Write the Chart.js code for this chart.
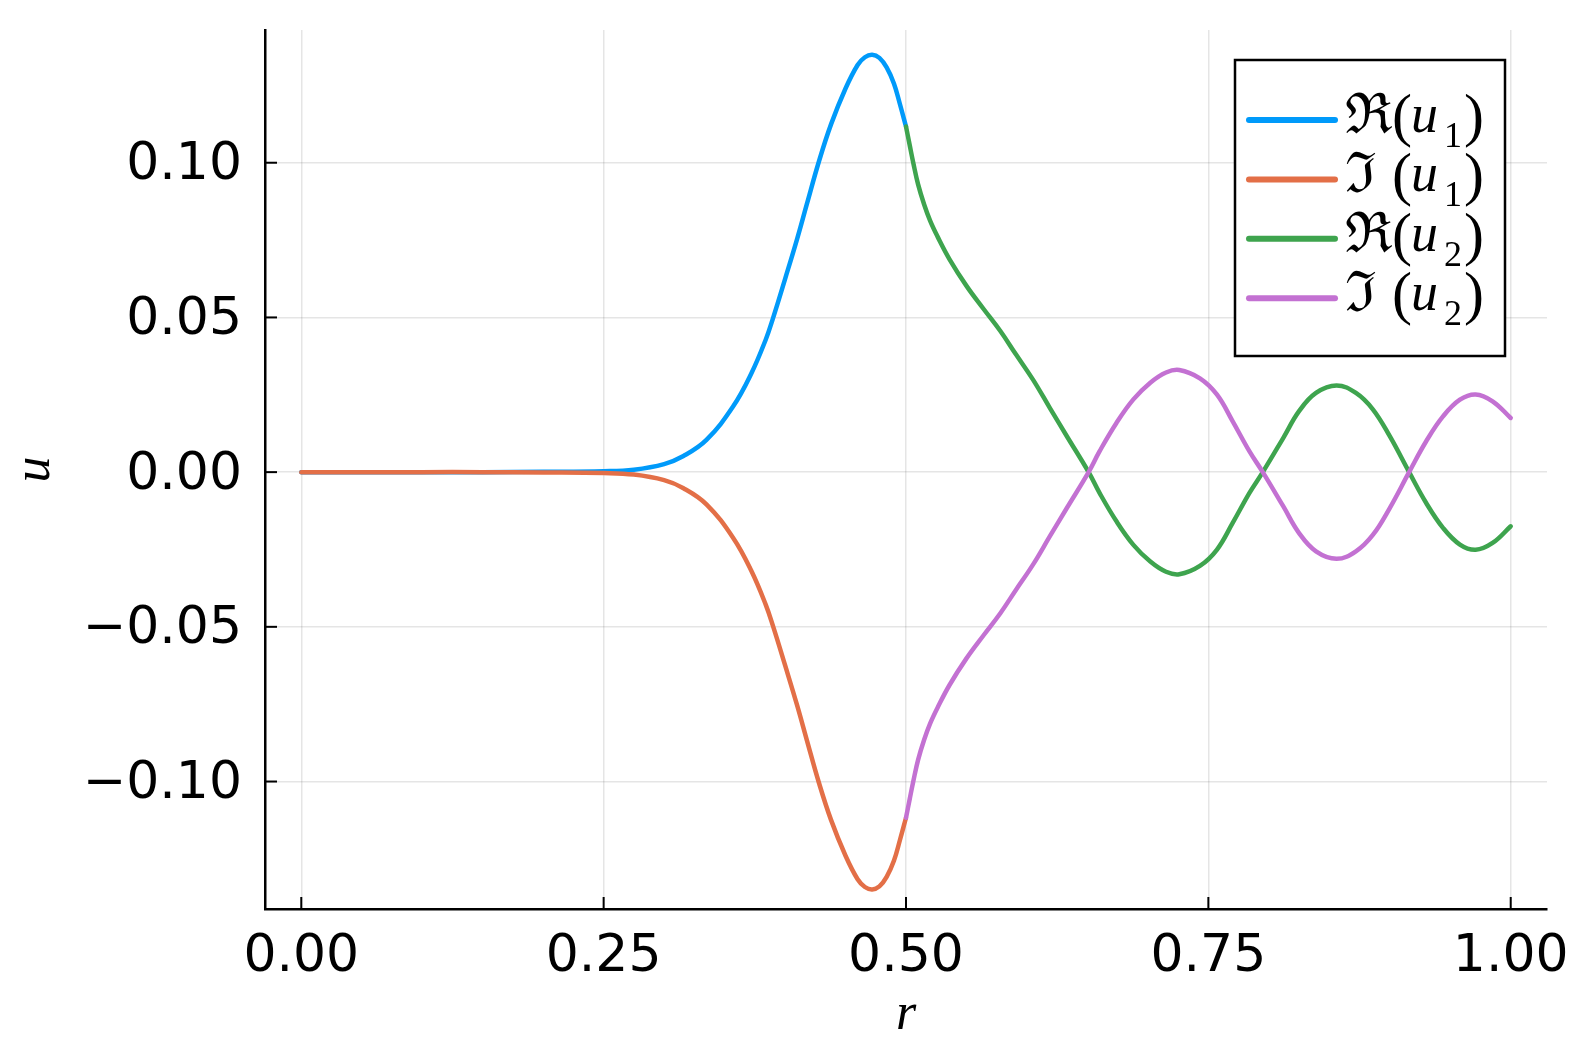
<!DOCTYPE html>
<html>
<head>
<meta charset="utf-8">
<title>u(r)</title>
<script src="https://cdn.jsdelivr.net/npm/chart.js@4/dist/chart.umd.min.js"></script>
<style>
    html, body { margin: 0; padding: 0; background: #fff; }
    .chart-box { width: 1578px; height: 1052px; position: relative; }
</style>
</head>
<body>
<div class="chart-box"><canvas id="uChart"></canvas></div>
<script>
// r on the inner piece [0, 0.5] and the outer piece [0.5, 1]
const r1 = [0, 0.05, 0.10, 0.15, 0.20, 0.25, 0.275, 0.30, 0.316, 0.335,
            0.357, 0.372, 0.384, 0.39, 0.40, 0.41, 0.418, 0.428, 0.438, 0.45,
            0.46, 0.466, 0.472, 0.478, 0.484, 0.49, 0.495, 0.50];
const re1 = [0, 0, 0, 0, 0.0001, 0.0003, 0.0008, 0.0026, 0.0052, 0.0104,
             0.0212, 0.0318, 0.0428, 0.0497, 0.0624, 0.0754, 0.0866, 0.1004, 0.1124, 0.1240,
             0.1316, 0.1341, 0.1349, 0.1339, 0.1308, 0.1256, 0.1189, 0.1117];
const im1 = [0, 0, 0, 0, -0.0001, -0.0003, -0.0008, -0.0026, -0.0052, -0.0104,
             -0.0212, -0.0318, -0.0428, -0.0497, -0.0624, -0.0754, -0.0866, -0.1004, -0.1124, -0.1240,
             -0.1316, -0.1341, -0.1349, -0.1339, -0.1308, -0.1256, -0.1189, -0.1117];

const r2 = [0.50, 0.503, 0.506, 0.51, 0.515, 0.52, 0.526, 0.536, 0.55, 0.564,
            0.578, 0.591, 0.605, 0.619, 0.633, 0.651, 0.66, 0.674, 0.688, 0.702,
            0.715, 0.726, 0.743, 0.757, 0.77, 0.784, 0.795, 0.812, 0.825, 0.839,
            0.856, 0.872, 0.886, 0.90, 0.916, 0.93, 0.944, 0.958, 0.971, 0.985,
            1.0];
const re2 = [0.1117, 0.1058, 0.1000, 0.0930, 0.0865, 0.0812, 0.0762, 0.0688, 0.0602, 0.0528,
             0.0456, 0.0380, 0.0299, 0.0207, 0.0116, 0, -0.0067, -0.0159, -0.0235, -0.0289,
             -0.0322, -0.0330, -0.0303, -0.0251, -0.0165, -0.0067, 0, 0.0111, 0.0197, 0.0256,
             0.0280, 0.0256, 0.0203, 0.0116, 0, -0.0099, -0.0180, -0.0234, -0.0251, -0.0229,
             -0.0175];
const im2 = [-0.1117, -0.1058, -0.1000, -0.0930, -0.0865, -0.0812, -0.0762, -0.0688, -0.0602, -0.0528,
             -0.0456, -0.0380, -0.0299, -0.0207, -0.0116, 0, 0.0067, 0.0159, 0.0235, 0.0289,
             0.0322, 0.0330, 0.0303, 0.0251, 0.0165, 0.0067, 0, -0.0111, -0.0197, -0.0256,
             -0.0280, -0.0256, -0.0203, -0.0116, 0, 0.0099, 0.0180, 0.0234, 0.0251, 0.0229,
             0.0175];

const xTicks = [0, 0.25, 0.5, 0.75, 1.0];
const yTicks = [-0.10, -0.05, 0, 0.05, 0.10];

// legend pieces: symbol + subscript, drawn as ℜ(u₁) etc.
const legendSym = ['ℜ', 'ℑ', 'ℜ', 'ℑ'];
const legendSub = ['1', '1', '2', '2'];

function pairs(xs, ys) {
    return xs.map((x, i) => ({ x: x, y: ys[i] }));
}

// Julia-style ticks pointing into the plot
const innerTicks = {
    id: 'innerTicks',
    afterDraw(chart) {
        const { ctx, chartArea, scales } = chart;
        ctx.save();
        ctx.strokeStyle = '#000';
        ctx.lineWidth = 2;
        scales.x.ticks.forEach(t => {
            const px = scales.x.getPixelForValue(t.value);
            ctx.beginPath();
            ctx.moveTo(px, chartArea.bottom);
            ctx.lineTo(px, chartArea.bottom - 12);
            ctx.stroke();
        });
        scales.y.ticks.forEach(t => {
            const py = scales.y.getPixelForValue(t.value);
            ctx.beginPath();
            ctx.moveTo(chartArea.left, py);
            ctx.lineTo(chartArea.left + 12, py);
            ctx.stroke();
        });
        ctx.restore();
    }
};

// boxed legend in the top right corner
const boxLegend = {
    id: 'boxLegend',
    afterDraw(chart) {
        const { ctx, chartArea } = chart;
        const left = chartArea.right - 312;
        const top = chartArea.top + 30;
        const w = 270, h = 296;
        ctx.save();
        ctx.fillStyle = '#fff';
        ctx.fillRect(left, top, w, h);
        ctx.lineWidth = 2.5;
        ctx.strokeStyle = '#000';
        ctx.strokeRect(left, top, w, h);

        chart.data.datasets.forEach((ds, i) => {
            const cy = top + 60 + i * 59.4;
            ctx.strokeStyle = ds.borderColor;
            ctx.lineWidth = 6;
            ctx.lineCap = 'round';
            ctx.beginPath();
            ctx.moveTo(left + 14, cy);
            ctx.lineTo(left + 100, cy);
            ctx.stroke();

            const tx = left + 112;
            const base = cy + 12;
            ctx.fillStyle = '#000';
            ctx.textAlign = 'left';
            ctx.textBaseline = 'alphabetic';
            ctx.font = '56px "DejaVu Serif"';
            ctx.fillText(legendSym[i], tx - 2, base + 1);
            ctx.font = '60px "Liberation Serif"';
            ctx.fillText('(', tx + 45, base + 3);
            ctx.fillText(')', tx + 117, base + 3);
            ctx.font = 'italic 54px "Liberation Serif"';
            ctx.fillText('u', tx + 64, base);
            ctx.font = '36px "Liberation Serif"';
            ctx.fillText(legendSub[i], tx + 97, base + 15);
        });
        ctx.restore();
    }
};

const ctx = document.getElementById('uChart');

new Chart(ctx, {
    type: 'line',
    data: {
        datasets: [
            { label: 'ℜ(u₁)', data: pairs(r1, re1), borderColor: '#009AFA', order: 4 },
            { label: 'ℑ(u₁)', data: pairs(r1, im1), borderColor: '#E36F47', order: 3 },
            { label: 'ℜ(u₂)', data: pairs(r2, re2), borderColor: '#3EA44E', order: 2 },
            { label: 'ℑ(u₂)', data: pairs(r2, im2), borderColor: '#C371D2', order: 1 }
        ]
    },
    options: {
        responsive: true,
        maintainAspectRatio: false,
        animation: false,
        layout: { padding: { top: 30, right: 31, left: 0, bottom: 0 } },
        elements: {
            point: { radius: 0 },
            line: { borderWidth: 4.5, tension: 0.4, fill: false, borderCapStyle: 'round' }
        },
        plugins: {
            legend: { display: false },
            tooltip: { enabled: false }
        },
        scales: {
            x: {
                type: 'linear',
                min: -0.03,
                max: 1.03,
                afterBuildTicks: scale => { scale.ticks = xTicks.map(v => ({ value: v })); },
                afterFit: scale => {
                    scale.height = 143;
                    scale.paddingLeft = 0;
                    scale.paddingRight = 0;
                },
                ticks: {
                    color: '#000',
                    padding: 17,
                    maxRotation: 0,
                    autoSkip: false,
                    font: { family: 'DejaVu Sans', size: 52 },
                    callback: v => v.toFixed(2)
                },
                grid: { color: 'rgba(0,0,0,0.1)', lineWidth: 1.5, drawTicks: false },
                border: { color: '#000', width: 2.5 },
                title: {
                    display: true,
                    text: 'r',
                    color: '#000',
                    padding: { top: 0, bottom: 5 },
                    font: { family: 'Liberation Serif', style: 'italic', size: 52 }
                }
            },
            y: {
                type: 'linear',
                min: -0.1412,
                max: 0.1429,
                afterBuildTicks: scale => { scale.ticks = yTicks.map(v => ({ value: v })); },
                afterFit: scale => {
                    scale.width = 265;
                    scale.paddingTop = 0;
                    scale.paddingBottom = 0;
                },
                ticks: {
                    color: '#000',
                    padding: 23,
                    autoSkip: false,
                    labelOffset: 3,
                    font: { family: 'DejaVu Sans', size: 52 },
                    callback: v => (v < 0 ? '\u2212' : '') + Math.abs(v).toFixed(2)
                },
                grid: { color: 'rgba(0,0,0,0.1)', lineWidth: 1.5, drawTicks: false },
                border: { color: '#000', width: 2.5 },
                title: {
                    display: true,
                    text: 'u',
                    color: '#000',
                    padding: { top: 4, bottom: 0 },
                    font: { family: 'Liberation Serif', style: 'italic', size: 52 }
                }
            }
        }
    },
    plugins: [innerTicks, boxLegend]
});
</script>
</body>
</html>
